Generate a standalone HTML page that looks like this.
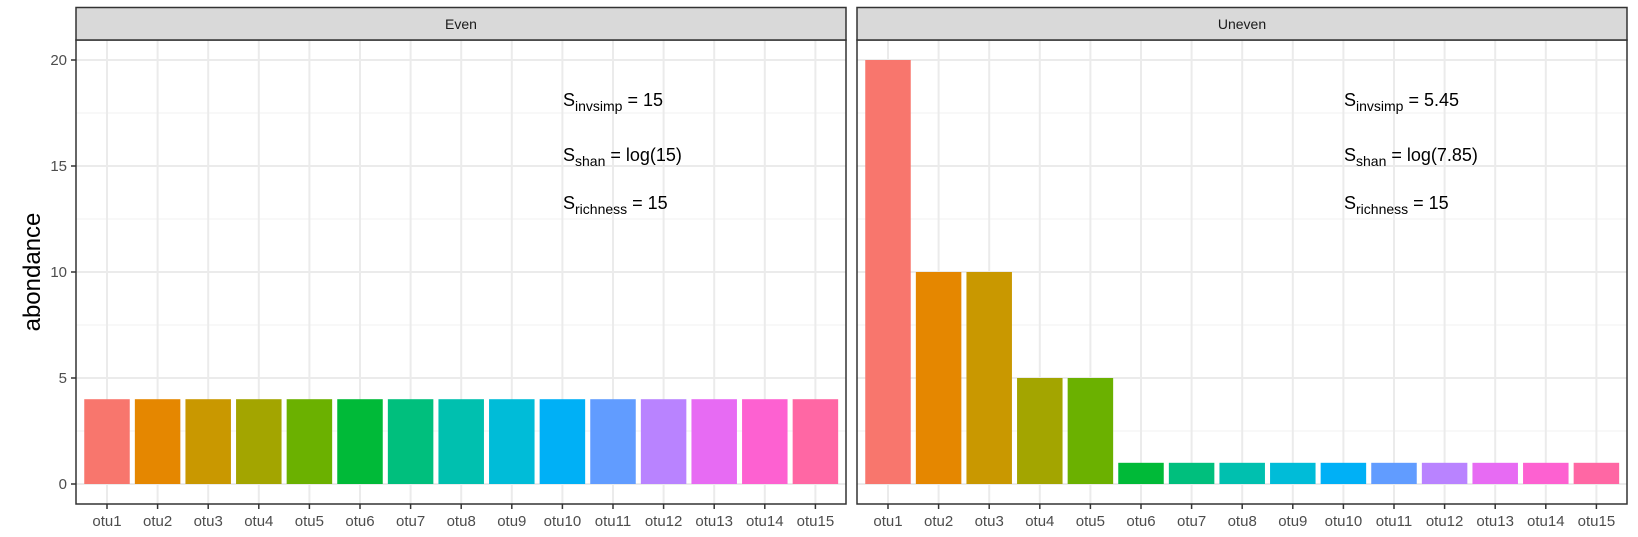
<!DOCTYPE html>
<html><head><meta charset="utf-8"><style>
body{margin:0;background:#fff}
svg text{font-family:"Liberation Sans",Arial,sans-serif}
</style></head><body>
<svg width="1638" height="532" viewBox="0 0 1638 532" xmlns="http://www.w3.org/2000/svg">
<defs>
<g id="grid">
<g stroke="#f2f2f2" stroke-width="1">
<line x1="0" x2="770" y1="431" y2="431"/><line x1="0" x2="770" y1="325" y2="325"/><line x1="0" x2="770" y1="219" y2="219"/><line x1="0" x2="770" y1="113" y2="113"/>
</g>
<g stroke="#ebebeb" stroke-width="2">
<line x1="0" x2="770" y1="484" y2="484"/><line x1="0" x2="770" y1="378" y2="378"/><line x1="0" x2="770" y1="272" y2="272"/><line x1="0" x2="770" y1="166" y2="166"/><line x1="0" x2="770" y1="60" y2="60"/>
<line x1="31" x2="31" y1="40" y2="504"/><line x1="81.6" x2="81.6" y1="40" y2="504"/><line x1="132.2" x2="132.2" y1="40" y2="504"/><line x1="182.8" x2="182.8" y1="40" y2="504"/><line x1="233.4" x2="233.4" y1="40" y2="504"/><line x1="284" x2="284" y1="40" y2="504"/><line x1="334.6" x2="334.6" y1="40" y2="504"/><line x1="385.2" x2="385.2" y1="40" y2="504"/><line x1="435.8" x2="435.8" y1="40" y2="504"/><line x1="486.4" x2="486.4" y1="40" y2="504"/><line x1="537" x2="537" y1="40" y2="504"/><line x1="587.6" x2="587.6" y1="40" y2="504"/><line x1="638.2" x2="638.2" y1="40" y2="504"/><line x1="688.8" x2="688.8" y1="40" y2="504"/><line x1="739.4" x2="739.4" y1="40" y2="504"/>
</g>
<g stroke="#333" stroke-width="1.5">
<line x1="31" x2="31" y1="504" y2="509"/><line x1="81.6" x2="81.6" y1="504" y2="509"/><line x1="132.2" x2="132.2" y1="504" y2="509"/><line x1="182.8" x2="182.8" y1="504" y2="509"/><line x1="233.4" x2="233.4" y1="504" y2="509"/><line x1="284" x2="284" y1="504" y2="509"/><line x1="334.6" x2="334.6" y1="504" y2="509"/><line x1="385.2" x2="385.2" y1="504" y2="509"/><line x1="435.8" x2="435.8" y1="504" y2="509"/><line x1="486.4" x2="486.4" y1="504" y2="509"/><line x1="537" x2="537" y1="504" y2="509"/><line x1="587.6" x2="587.6" y1="504" y2="509"/><line x1="638.2" x2="638.2" y1="504" y2="509"/><line x1="688.8" x2="688.8" y1="504" y2="509"/><line x1="739.4" x2="739.4" y1="504" y2="509"/>
</g>
</g>
</defs>

<!-- Left panel -->
<use href="#grid" x="76"/>
<g>
<rect x="84.25" y="399.2" width="45.5" height="84.8" fill="#F8766D"/>
<rect x="134.85" y="399.2" width="45.5" height="84.8" fill="#E58700"/>
<rect x="185.45" y="399.2" width="45.5" height="84.8" fill="#C99800"/>
<rect x="236.05" y="399.2" width="45.5" height="84.8" fill="#A3A500"/>
<rect x="286.65" y="399.2" width="45.5" height="84.8" fill="#6BB100"/>
<rect x="337.25" y="399.2" width="45.5" height="84.8" fill="#00BA38"/>
<rect x="387.85" y="399.2" width="45.5" height="84.8" fill="#00BF7D"/>
<rect x="438.45" y="399.2" width="45.5" height="84.8" fill="#00C0AF"/>
<rect x="489.05" y="399.2" width="45.5" height="84.8" fill="#00BCD8"/>
<rect x="539.65" y="399.2" width="45.5" height="84.8" fill="#00B0F6"/>
<rect x="590.25" y="399.2" width="45.5" height="84.8" fill="#619CFF"/>
<rect x="640.85" y="399.2" width="45.5" height="84.8" fill="#B983FF"/>
<rect x="691.45" y="399.2" width="45.5" height="84.8" fill="#E76BF3"/>
<rect x="742.05" y="399.2" width="45.5" height="84.8" fill="#FD61D1"/>
<rect x="792.65" y="399.2" width="45.5" height="84.8" fill="#FF67A4"/>
</g>
<rect x="76" y="40" width="770" height="464" fill="none" stroke="#333" stroke-width="1.5"/>
<rect x="76" y="7.5" width="770" height="32.5" fill="#d9d9d9" stroke="#333" stroke-width="1.5"/>
<text x="461" y="29" font-size="14" fill="#1a1a1a" text-anchor="middle">Even</text>

<!-- Right panel -->
<use href="#grid" x="857"/>
<g>
<rect x="865.25" y="60" width="45.5" height="424" fill="#F8766D"/>
<rect x="915.85" y="272" width="45.5" height="212" fill="#E58700"/>
<rect x="966.45" y="272" width="45.5" height="212" fill="#C99800"/>
<rect x="1017.05" y="378" width="45.5" height="106" fill="#A3A500"/>
<rect x="1067.65" y="378" width="45.5" height="106" fill="#6BB100"/>
<rect x="1118.25" y="462.8" width="45.5" height="21.2" fill="#00BA38"/>
<rect x="1168.85" y="462.8" width="45.5" height="21.2" fill="#00BF7D"/>
<rect x="1219.45" y="462.8" width="45.5" height="21.2" fill="#00C0AF"/>
<rect x="1270.05" y="462.8" width="45.5" height="21.2" fill="#00BCD8"/>
<rect x="1320.65" y="462.8" width="45.5" height="21.2" fill="#00B0F6"/>
<rect x="1371.25" y="462.8" width="45.5" height="21.2" fill="#619CFF"/>
<rect x="1421.85" y="462.8" width="45.5" height="21.2" fill="#B983FF"/>
<rect x="1472.45" y="462.8" width="45.5" height="21.2" fill="#E76BF3"/>
<rect x="1523.05" y="462.8" width="45.5" height="21.2" fill="#FD61D1"/>
<rect x="1573.65" y="462.8" width="45.5" height="21.2" fill="#FF67A4"/>
</g>
<rect x="857" y="40" width="770" height="464" fill="none" stroke="#333" stroke-width="1.5"/>
<rect x="857" y="7.5" width="770" height="32.5" fill="#d9d9d9" stroke="#333" stroke-width="1.5"/>
<text x="1242" y="29" font-size="14" fill="#1a1a1a" text-anchor="middle">Uneven</text>

<!-- Y axis -->
<g stroke="#333" stroke-width="1.5">
<line x1="71" x2="76" y1="484" y2="484"/><line x1="71" x2="76" y1="378" y2="378"/><line x1="71" x2="76" y1="272" y2="272"/><line x1="71" x2="76" y1="166" y2="166"/><line x1="71" x2="76" y1="60" y2="60"/>
</g>
<g font-size="15" fill="#4d4d4d" text-anchor="end">
<text x="67" y="489">0</text><text x="67" y="383">5</text><text x="67" y="277">10</text><text x="67" y="171">15</text><text x="67" y="65">20</text>
</g>
<text transform="translate(40,272) rotate(-90)" font-size="24" fill="#000" text-anchor="middle">abondance</text>

<!-- X labels -->
<g font-size="15" fill="#4d4d4d" text-anchor="middle">
<text x="107" y="526">otu1</text><text x="157.6" y="526">otu2</text><text x="208.2" y="526">otu3</text><text x="258.8" y="526">otu4</text><text x="309.4" y="526">otu5</text><text x="360" y="526">otu6</text><text x="410.6" y="526">otu7</text><text x="461.2" y="526">otu8</text><text x="511.8" y="526">otu9</text><text x="562.4" y="526">otu10</text><text x="613" y="526">otu11</text><text x="663.6" y="526">otu12</text><text x="714.2" y="526">otu13</text><text x="764.8" y="526">otu14</text><text x="815.4" y="526">otu15</text>
<text x="888" y="526">otu1</text><text x="938.6" y="526">otu2</text><text x="989.2" y="526">otu3</text><text x="1039.8" y="526">otu4</text><text x="1090.4" y="526">otu5</text><text x="1141" y="526">otu6</text><text x="1191.6" y="526">otu7</text><text x="1242.2" y="526">otu8</text><text x="1292.8" y="526">otu9</text><text x="1343.4" y="526">otu10</text><text x="1394" y="526">otu11</text><text x="1444.6" y="526">otu12</text><text x="1495.2" y="526">otu13</text><text x="1545.8" y="526">otu14</text><text x="1596.4" y="526">otu15</text>
</g>

<!-- Annotations -->
<g font-size="18" fill="#000">
<text x="563" y="106">S<tspan font-size="14" dy="5">invsimp</tspan><tspan dy="-5"> = 15</tspan></text>
<text x="563" y="161">S<tspan font-size="14" dy="5">shan</tspan><tspan dy="-5"> = log(15)</tspan></text>
<text x="563" y="209">S<tspan font-size="14" dy="5">richness</tspan><tspan dy="-5"> = 15</tspan></text>
<text x="1344" y="106">S<tspan font-size="14" dy="5">invsimp</tspan><tspan dy="-5"> = 5.45</tspan></text>
<text x="1344" y="161">S<tspan font-size="14" dy="5">shan</tspan><tspan dy="-5"> = log(7.85)</tspan></text>
<text x="1344" y="209">S<tspan font-size="14" dy="5">richness</tspan><tspan dy="-5"> = 15</tspan></text>
</g>
</svg>
</body></html>
